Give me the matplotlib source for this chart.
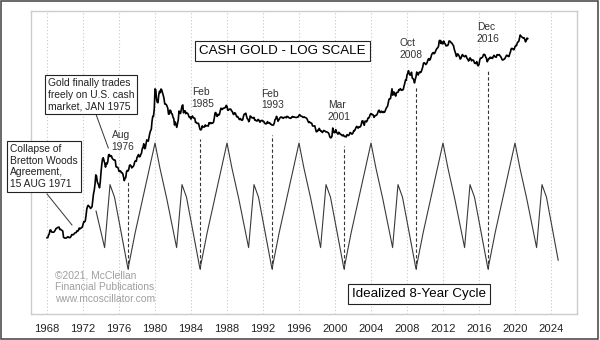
import numpy as np
import matplotlib
matplotlib.use("Agg")
import matplotlib.pyplot as plt
from matplotlib.patches import Rectangle
from matplotlib.lines import Line2D
from matplotlib.ticker import NullLocator

plt.rcParams['font.family'] = ['Liberation Sans', 'DejaVu Sans']

# Cash gold, monthly, starting Jan 1968 (USD/oz)
gold_start = 1968
gold_monthly = [
    35.2, 35.2, 37.0, 38.0, 41.0, 41.0, 39.5, 39.3, 39.3, 39.3, 40.0, 41.0,
    42.3, 42.5, 43.2, 43.3, 43.5, 41.5, 41.6, 41.2, 40.7, 40.2, 35.5, 35.2,
    34.9, 35.0, 35.1, 35.6, 35.9, 35.4, 35.3, 35.4, 36.2, 37.5, 37.4, 37.4,
    37.9, 38.7, 38.9, 39.0, 40.5, 40.1, 41.0, 42.7, 42.0, 42.5, 42.9, 43.5,
    45.8, 48.3, 48.3, 49.0, 54.6, 62.0, 65.7, 67.0, 65.5, 64.9, 62.9, 63.9,
    65.1, 74.2, 84.4, 90.5, 102.0, 122.5, 120.0, 106.8, 103.0, 100.1, 94.9, 106.7,
    129.2, 150.2, 168.4, 172.2, 163.1, 154.1, 143.0, 154.6, 151.8, 158.8, 181.7, 183.8,
    176.3, 179.6, 178.2, 169.9, 167.2, 164.8, 165.2, 163.0, 144.1, 142.8, 142.9, 139.3,
    131.6, 131.2, 132.7, 128.3, 128.2, 125.5, 117.9, 109.3, 114.3, 116.3, 130.3, 133.9,
    132.3, 136.3, 148.2, 149.3, 146.6, 140.8, 143.4, 144.8, 149.5, 159.6, 161.9, 160.4,
    173.2, 178.1, 183.7, 175.3, 176.3, 183.6, 188.8, 206.1, 212.4, 227.3, 206.1, 207.8,
    227.3, 245.7, 242.1, 239.2, 257.6, 279.1, 294.7, 300.8, 355.1, 391.7, 392.5, 455.1,
    675.3, 665.3, 553.6, 517.4, 513.8, 600.7, 645.0, 626.5, 673.6, 661.1, 623.5, 594.9,
    557.6, 500.5, 498.8, 495.8, 479.7, 460.8, 409.3, 410.1, 443.6, 437.8, 413.4, 410.1,
    384.3, 374.2, 330.0, 350.5, 333.4, 314.9, 338.6, 364.4, 435.6, 422.4, 414.1, 444.4,
    481.0, 491.5, 419.7, 432.8, 438.4, 413.0, 422.6, 416.2, 411.9, 394.0, 382.1, 388.1,
    370.9, 386.0, 394.5, 381.3, 377.8, 377.6, 347.6, 347.6, 341.1, 340.2, 341.1, 320.2,
    302.7, 299.1, 304.0, 324.7, 316.3, 316.8, 317.3, 330.1, 323.4, 325.3, 325.3, 322.3,
    345.4, 338.9, 345.7, 340.4, 342.5, 342.6, 348.5, 376.4, 418.3, 423.2, 397.8, 391.0,
    408.3, 401.1, 408.9, 438.4, 460.2, 449.0, 450.6, 461.0, 460.3, 465.4, 467.5, 487.1,
    477.4, 442.1, 443.5, 452.1, 451.3, 451.5, 437.3, 432.3, 413.0, 406.0, 420.0, 418.7,
    404.0, 387.9, 390.2, 384.3, 371.2, 367.4, 375.0, 365.4, 362.0, 366.9, 394.0, 409.4,
    410.1, 416.8, 393.1, 374.3, 369.2, 352.3, 362.5, 395.0, 389.3, 380.8, 381.3, 378.2,
    383.6, 363.3, 363.5, 358.4, 356.9, 366.7, 367.7, 356.2, 348.8, 358.7, 359.9, 361.7,
    354.0, 354.0, 344.3, 338.6, 337.2, 340.9, 353.0, 342.9, 345.0, 344.4, 335.0, 334.8,
    329.0, 329.3, 330.1, 342.2, 367.2, 371.9, 392.0, 378.8, 355.3, 364.2, 373.8, 383.3,
    386.9, 382.0, 383.9, 377.3, 381.4, 385.6, 385.5, 380.4, 391.6, 389.8, 384.4, 379.3,
    378.6, 376.6, 382.2, 391.0, 385.3, 387.6, 386.2, 383.6, 383.1, 383.0, 386.0, 387.4,
    400.0, 405.0, 396.1, 392.8, 392.0, 385.3, 383.5, 387.5, 383.1, 381.1, 377.9, 369.2,
    355.0, 346.6, 351.8, 344.5, 343.8, 340.8, 324.1, 323.8, 322.8, 324.9, 306.0, 288.7,
    289.1, 297.5, 295.9, 308.4, 299.1, 292.3, 292.9, 284.2, 288.9, 296.1, 293.8, 291.3,
    287.1, 287.3, 285.9, 282.6, 276.4, 261.3, 256.1, 256.7, 264.7, 310.7, 293.2, 283.1,
    284.6, 300.9, 286.4, 280.2, 275.1, 285.7, 281.6, 274.5, 273.7, 270.0, 266.0, 271.5,
    265.5, 261.9, 263.0, 260.5, 272.4, 270.2, 267.5, 272.4, 283.4, 283.1, 276.2, 275.9,
    281.7, 295.5, 294.0, 302.7, 314.5, 321.2, 313.3, 310.3, 319.2, 316.6, 319.2, 333.4,
    356.9, 359.0, 340.6, 328.2, 355.7, 356.4, 351.0, 359.8, 378.9, 378.9, 389.9, 407.6,
    414.0, 405.3, 406.7, 403.0, 383.8, 392.4, 398.1, 400.5, 405.3, 420.5, 439.4, 442.1,
    424.0, 423.4, 434.2, 429.2, 421.9, 430.7, 424.5, 437.9, 456.0, 469.9, 476.7, 510.1,
    549.9, 555.0, 557.1, 610.6, 676.5, 596.2, 633.7, 632.6, 598.2, 585.8, 627.8, 629.8,
    631.2, 664.8, 654.9, 679.4, 666.9, 655.5, 665.3, 665.4, 712.7, 754.6, 806.3, 803.2,
    889.6, 922.3, 968.4, 909.7, 888.7, 889.5, 939.8, 839.0, 829.9, 806.6, 760.9, 816.1,
    858.7, 943.2, 924.3, 890.2, 928.6, 945.7, 934.2, 949.4, 996.6, 1043.2, 1127.0, 1134.7,
    1117.9, 1095.4, 1113.3, 1148.7, 1205.4, 1232.9, 1192.9, 1215.8, 1270.9, 1342.0, 1369.9, 1390.6,
    1356.4, 1372.7, 1424.0, 1473.8, 1510.4, 1528.7, 1572.8, 1755.8, 1771.9, 1665.2, 1738.9, 1652.3,
    1656.1, 1742.6, 1673.8, 1649.7, 1585.5, 1596.7, 1593.9, 1626.0, 1744.5, 1746.6, 1721.6, 1684.8,
    1671.9, 1627.6, 1593.1, 1487.9, 1414.0, 1343.4, 1285.5, 1351.7, 1348.6, 1316.6, 1275.8, 1221.5,
    1244.3, 1299.6, 1336.1, 1299.0, 1287.5, 1279.1, 1310.6, 1295.0, 1236.6, 1222.5, 1175.3, 1200.6,
    1250.8, 1227.1, 1178.6, 1198.9, 1198.6, 1181.5, 1128.3, 1117.9, 1124.8, 1159.3, 1086.4, 1068.3,
    1097.9, 1199.5, 1245.1, 1242.3, 1260.9, 1276.4, 1336.7, 1340.2, 1326.6, 1266.5, 1238.4, 1157.4,
    1192.1, 1234.2, 1231.4, 1266.9, 1246.0, 1260.3, 1236.8, 1283.0, 1314.1, 1279.5, 1281.9, 1264.5,
    1331.3, 1330.7, 1324.7, 1334.8, 1303.5, 1281.6, 1238.0, 1201.7, 1198.4, 1215.4, 1220.7, 1250.4,
    1291.8, 1320.1, 1300.9, 1285.9, 1283.7, 1359.0, 1412.9, 1500.4, 1510.6, 1494.8, 1470.8, 1479.1,
    1560.7, 1597.1, 1591.9, 1683.2, 1715.9, 1732.2, 1846.5, 1968.6, 1921.9, 1900.3, 1866.3, 1858.4,
    1867.0, 1808.2, 1718.2, 1760.0, 1850.3, 1834.6,
]

# Idealized 8-year cycle, vertices (year, relative level)
cycle_year = [
    1973.45, 1974.4, 1975.0, 1975.5,
    1977.0, 1977.8, 1980.0, 1980.55, 1981.3, 1982.4, 1983.0, 1983.5,
    1985.0, 1985.8, 1988.0, 1988.55, 1989.3, 1990.4, 1991.0, 1991.5,
    1993.0, 1993.8, 1996.0, 1996.55, 1997.3, 1998.4, 1999.0, 1999.5,
    2001.0, 2001.8, 2004.0, 2004.55, 2005.3, 2006.4, 2007.0, 2007.5,
    2009.0, 2009.8, 2012.0, 2012.55, 2013.3, 2014.4, 2015.0, 2015.5,
    2017.0, 2017.8, 2020.0, 2020.55, 2021.3, 2022.4, 2023.0, 2023.5,
    2024.8,
]
cycle_val = [
    46, 17, 67, 57,
    0, 29, 100, 80, 56, 17, 67, 57,
    0, 29, 100, 80, 56, 17, 67, 57,
    0, 29, 100, 80, 56, 17, 67, 57,
    0, 29, 100, 80, 56, 17, 67, 57,
    0, 29, 100, 80, 56, 17, 67, 57,
    0, 29, 100, 80, 56, 17, 67, 57,
    7,
]

trough_years = [1977.0, 1985.0, 1993.0, 2001.0, 2009.0, 2017.0]
trough_labels = ['Aug\n1976', 'Feb\n1985', 'Feb\n1993', 'Mar\n2001', 'Oct\n2008', 'Dec\n2016']
tick_years = list(range(1968, 2025, 4))

W, H = 600, 340


def fx(px):
    return px / W


def fy(py):
    return 1 - py / H


fig = plt.figure(figsize=(6, 3.4), dpi=100)
fig.patch.set_facecolor('white')

ax = fig.add_axes([fx(31), fy(314), (577 - 31) / W, (314 - 11) / H])
ax.set_yscale('log')
ax.set_xlim(1966.22, 2026.89)
ax.set_ylim(7.75, 3170)
ax2 = ax.twinx()
ax2.set_ylim(-35.7, 204.8)

years = gold_start + np.arange(len(gold_monthly)) / 12
ax.plot(years, gold_monthly, color='black', lw=1.2, zorder=3)
ax2.plot(cycle_year, cycle_val, color='#3a3a3a', lw=0.8)

ax.set_xticks(tick_years)
ax.set_xticklabels([str(t) for t in tick_years])
ax.tick_params(axis='x', length=0, pad=7.5, labelsize=8.1, labelcolor='#222222')
ax.yaxis.set_major_locator(NullLocator())
ax.yaxis.set_minor_locator(NullLocator())
ax2.set_yticks([])
for s in ax.spines.values():
    s.set_color('#cccccc')
    s.set_linewidth(1.0)
for s in ax2.spines.values():
    s.set_visible(False)
ax.grid(axis='x', color='#c8c8c8', ls=(0, (1, 2)), lw=0.8)

# dashed markers from just under the gold line down to each cycle trough
for d in trough_years:
    g = np.interp(d, years, gold_monthly)
    xd, yd = ax.transData.transform((d, g))
    top_v = ax2.transData.inverted().transform((xd, yd - 10))[1]
    ax2.vlines(d, 0, top_v, colors='#333333', lw=0.8, linestyles=(0, (3, 2)))

# trough date labels
label_pos = [(123, 141.2, 'center'), (191.7, 97.8, 'left'), (261, 99.7, 'left'),
             (327.7, 110.8, 'left'), (400, 48.7, 'left'), (476.7, 33.2, 'left')]
for txt, (x, y, ha) in zip(trough_labels, label_pos):
    fig.text(fx(x), fy(y), txt, ha=ha, va='center', fontsize=7.4,
             color='#333333', multialignment='left')

box = dict(boxstyle='square,pad=0.3', fc='white', ec='#222222', lw=0.8)
fig.text(fx(282.7), fy(50.7), 'CASH GOLD - LOG SCALE', ha='center', va='center',
         fontsize=9.6, bbox=box)
fig.text(fx(419), fy(294.2), 'Idealized 8-Year Cycle', ha='center', va='center',
         fontsize=9.6, bbox=box)
fig.text(fx(47.7), fy(94.5), 'Gold finally trades\nfreely on U.S. cash\nmarket, JAN 1975',
         ha='left', va='center', fontsize=7.4, color='#222222', bbox=box)
fig.text(fx(10), fy(166.5), 'Collapse of\nBretton Woods\nAgreement,\n15 AUG 1971',
         ha='left', va='center', fontsize=7.4, color='#222222', bbox=box)
fig.add_artist(Line2D([fx(96), fx(108.3)], [fy(114.3), fy(148)], color='#333333', lw=0.7))
fig.add_artist(Line2D([fx(47), fx(72)], [fy(194), fy(225)], color='#333333', lw=0.7))

fig.text(fx(55), fy(287.5), '\u00a92021, McClellan\nFinancial Publications\nwww.mcoscillator.com',
         ha='left', va='center', fontsize=7.4, color='#a0a0a0')

# outer frame
fig.add_artist(Rectangle((fx(1), fy(338.5)), (597 / W), (337.5 / H), transform=fig.transFigure,
                         fill=False, ec='#404040', lw=1.1))

fig.savefig('out.png', dpi=100)
